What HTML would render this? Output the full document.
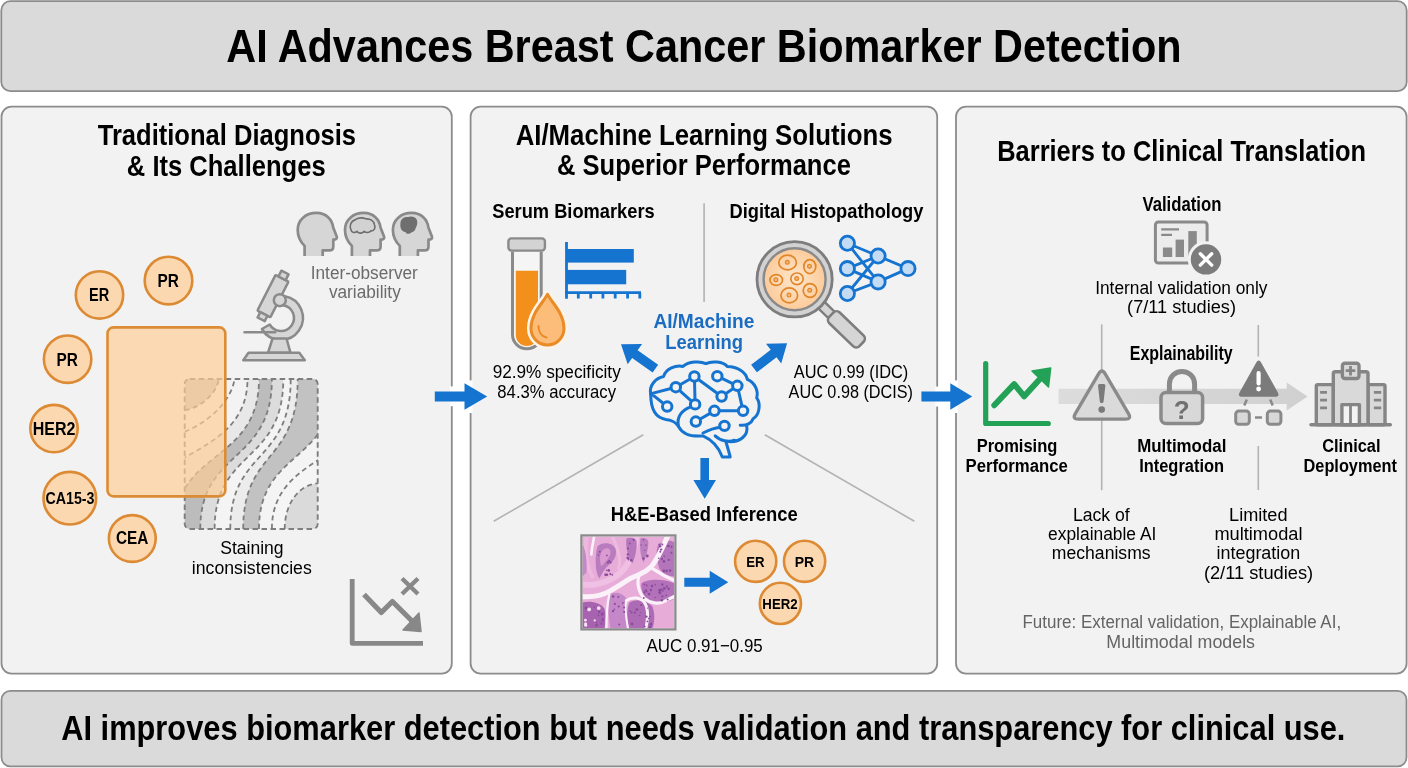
<!DOCTYPE html>
<html><head><meta charset="utf-8"><style>
html,body{margin:0;padding:0;background:#ffffff;}
svg{display:block;font-family:"Liberation Sans",sans-serif;filter:blur(0.45px);}
</style></head><body>
<svg width="1408" height="768" viewBox="0 0 1408 768">
<rect x="1.3" y="1.2" width="1405.4" height="89.9" rx="9" fill="#dadada" stroke="#8c8c8c" stroke-width="1.8"/>
<rect x="1.5" y="106.6" width="450.3" height="567" rx="10" fill="#f2f2f2" stroke="#8c8c8c" stroke-width="1.8"/>
<rect x="470.6" y="106.6" width="466.6" height="567" rx="10" fill="#f2f2f2" stroke="#8c8c8c" stroke-width="1.8"/>
<rect x="956" y="106.6" width="450.6" height="567" rx="10" fill="#f2f2f2" stroke="#8c8c8c" stroke-width="1.8"/>
<rect x="1.5" y="690.8" width="1405" height="75.6" rx="9" fill="#dadada" stroke="#8c8c8c" stroke-width="1.8"/>
<rect x="449.8" y="386.4" width="4.5" height="19.8" fill="#fff"/><rect x="468.9" y="380.4" width="3.6" height="32.6" fill="#fff"/>
<rect x="935.4" y="386.6" width="3.6" height="19.9" fill="#fff"/><rect x="954.2" y="380.4" width="3.6" height="32.6" fill="#fff"/>
<path d="M434.8,391.4 L464.5,391.4 L464.5,383.15 L487.2,396.5 L464.5,409.85 L464.5,401.6 L434.8,401.6 Z" fill="#1574d0"/>
<path d="M921.4,391.4 L950.3,391.4 L950.3,383.15 L972.2,396.5 L950.3,409.85 L950.3,401.6 L921.4,401.6 Z" fill="#1574d0"/>
<g transform="translate(297.7,212.9)"><path d="M6.9,43 L6.9,33 C2.5,28.5 0,23 0,17 C0,7 8,0 18.75,0 C28.5,0 34.5,6.5 35.5,14.5 L39,23.5 C39.8,25.5 38.5,26.8 35.6,26.8 L35.6,33.5 C35.6,36 34,37.5 31.5,37.5 L25,37.5 L25,43" fill="#d6d6d6" stroke="#8a8a8a" stroke-width="2.7" stroke-linejoin="round"/>
</g>
<g transform="translate(345.0,212.9)"><path d="M6.9,43 L6.9,33 C2.5,28.5 0,23 0,17 C0,7 8,0 18.75,0 C28.5,0 34.5,6.5 35.5,14.5 L39,23.5 C39.8,25.5 38.5,26.8 35.6,26.8 L35.6,33.5 C35.6,36 34,37.5 31.5,37.5 L25,37.5 L25,43" fill="#d6d6d6" stroke="#8a8a8a" stroke-width="2.7" stroke-linejoin="round"/>
<path d="M6,17 C4,13 6,8 10,7 C13,4.5 18,4.5 21,6 C25,5.5 29,8 29.5,12 C31,15 29,18.5 26,18 C24,20 21,20 19,18.5 C17,21 13,20.5 12,18.5 C9,20.5 6.5,19.5 6,17 Z" fill="#d2d2d2" stroke="#6d6d6d" stroke-width="1.6"/>
</g>
<g transform="translate(392.9,212.9)"><path d="M6.9,43 L6.9,33 C2.5,28.5 0,23 0,17 C0,7 8,0 18.75,0 C28.5,0 34.5,6.5 35.5,14.5 L39,23.5 C39.8,25.5 38.5,26.8 35.6,26.8 L35.6,33.5 C35.6,36 34,37.5 31.5,37.5 L25,37.5 L25,43" fill="#d6d6d6" stroke="#8a8a8a" stroke-width="2.7" stroke-linejoin="round"/>
<path d="M7.5,11 C7.5,6 11,3.8 15,4.2 C18,2.8 22,3.5 23.5,6 C25,8.5 24.5,12 23,14.5 C22.5,17 21,19 18.5,19.5 C16.5,21.5 13.5,21.5 12.5,19 C9,18.5 7,15.5 7.5,11 Z" fill="#6f6f6f"/>
</g>
<g stroke="#8a8a8a" stroke-width="2.5" stroke-linejoin="round" fill="#d6d6d6">
<path d="M284.8,296.3 A22,22 0 1 1 261.9,329 L269.7,324.5 A13,13 0 1 0 283.3,305.2 Z"/>
<path d="M268,352.8 L272.5,338.5 L286.5,338.5 L290.5,352.8 Z"/>
<path d="M243.3,360.2 L304.8,360.2 L299.3,352.8 L248.5,352.8 Z"/>
<g transform="translate(272.5,297) rotate(27)">
<rect x="-7.3" y="-21" width="14.6" height="40" rx="1"/>
<rect x="-4" y="-27.5" width="8" height="6.5"/>
<rect x="-4" y="19" width="8" height="6"/>
</g>
<circle cx="279.8" cy="300.2" r="6"/>
</g>
<line x1="244.6" y1="332.3" x2="275" y2="332.3" stroke="#8a8a8a" stroke-width="2.6" stroke-linecap="round"/>
<defs><clipPath id="sbclip"><rect x="0" y="0" width="133" height="150" rx="5"/></clipPath></defs><g transform="translate(184.7,379)"><g clip-path="url(#sbclip)"><rect x="0" y="0" width="133" height="150" fill="#c8c8c8"/><path d="M-5,31.2 L0,31.2 C14,29 31,17 34.2,0 L34.2,-5 L200,-5 L200,200 L-5,200 Z" fill="#f3f3f3"/><path d="M-5,52.7 L0,52.7 C22,44 46,24 49.9,0 L49.9,-5 L200,-5 L200,200 L-5,200 Z" fill="#f3f3f3"/><path d="M-57,150 C-57,70 62.8,85 62.8,0 L62.8,-300 L400,-300 L400,400 L-57,400 Z" fill="#e8e8e8"/><path d="M-10,150 C-10,70 74.3,85 74.3,0 L74.3,-300 L400,-300 L400,400 L-10,400 Z" fill="#bcbcbc"/><path d="M15.6,150 C15.6,70 87.2,85 87.2,0 L87.2,-300 L400,-300 L400,400 L15.6,400 Z" fill="#dcdcdc"/><path d="M29.9,150 C29.9,70 98.6,85 98.6,0 L98.6,-300 L400,-300 L400,400 L29.9,400 Z" fill="#f4f4f4"/><path d="M45.6,150 C45.6,70 106,85 106,0 L106,-300 L400,-300 L400,400 L45.6,400 Z" fill="#ececec"/><path d="M58.5,150 C58.5,70 113,85 113,0 L113,-300 L400,-300 L400,400 L58.5,400 Z" fill="#c2c2c2"/><path d="M74.3,150 C74.3,70 150,85 150,0 L150,-300 L400,-300 L400,400 L74.3,400 Z" fill="#f4f4f4"/><path d="M87.2,150 C87.2,70 192.7,85 192.7,0 L192.7,-300 L400,-300 L400,400 L87.2,400 Z" fill="#f5f5f5"/><path d="M100,155 L100,150 C100,126 113,106 133,104.3 L200,104.3 L200,200 L100,200 Z" fill="#dadada"/><path d="M0,31.2 C14,29 31,17 34.2,0" fill="none" stroke="#7e7e7e" stroke-width="1.8" stroke-dasharray="5 3.5"/><path d="M0,52.7 C22,44 46,24 49.9,0" fill="none" stroke="#7e7e7e" stroke-width="1.8" stroke-dasharray="5 3.5"/><path d="M-57,150 C-57,70 62.8,85 62.8,0" fill="none" stroke="#7e7e7e" stroke-width="1.8" stroke-dasharray="5 3.5"/><path d="M-10,150 C-10,70 74.3,85 74.3,0" fill="none" stroke="#7e7e7e" stroke-width="1.8" stroke-dasharray="5 3.5"/><path d="M15.6,150 C15.6,70 87.2,85 87.2,0" fill="none" stroke="#7e7e7e" stroke-width="1.8" stroke-dasharray="5 3.5"/><path d="M29.9,150 C29.9,70 98.6,85 98.6,0" fill="none" stroke="#7e7e7e" stroke-width="1.8" stroke-dasharray="5 3.5"/><path d="M45.6,150 C45.6,70 106,85 106,0" fill="none" stroke="#7e7e7e" stroke-width="1.8" stroke-dasharray="5 3.5"/><path d="M58.5,150 C58.5,70 113,85 113,0" fill="none" stroke="#7e7e7e" stroke-width="1.8" stroke-dasharray="5 3.5"/><path d="M74.3,150 C74.3,70 150,85 150,0" fill="none" stroke="#7e7e7e" stroke-width="1.8" stroke-dasharray="5 3.5"/><path d="M87.2,150 C87.2,70 192.7,85 192.7,0" fill="none" stroke="#7e7e7e" stroke-width="1.8" stroke-dasharray="5 3.5"/><path d="M100,150 C100,126 113,106 133,104.3" fill="none" stroke="#7e7e7e" stroke-width="1.8" stroke-dasharray="5 3.5"/></g><rect x="0" y="0" width="133" height="150" rx="5" fill="none" stroke="#7e7e7e" stroke-width="1.9" stroke-dasharray="5.5 3.5"/></g>
<rect x="107.5" y="327.4" width="117.8" height="169" rx="6" fill="#ffcd95" fill-opacity="0.68" stroke="#dc8c35" stroke-width="2.6"/>
<circle cx="99.5" cy="294.9" r="23.7" fill="#fcd8b1" stroke="#dc8a33" stroke-width="2.6"/>
<circle cx="168.5" cy="280.6" r="23.8" fill="#fcd8b1" stroke="#dc8a33" stroke-width="2.6"/>
<circle cx="67.6" cy="359.2" r="23.7" fill="#fcd8b1" stroke="#dc8a33" stroke-width="2.6"/>
<circle cx="54" cy="428.6" r="23.7" fill="#fcd8b1" stroke="#dc8a33" stroke-width="2.6"/>
<circle cx="69.8" cy="498.2" r="26.3" fill="#fcd8b1" stroke="#dc8a33" stroke-width="2.6"/>
<circle cx="132.3" cy="538.5" r="23.4" fill="#fcd8b1" stroke="#dc8a33" stroke-width="2.6"/>
<g stroke="#888" fill="none" stroke-linecap="round" stroke-linejoin="round">
<path d="M352.2,579 L352.2,643.4 L423,643.4" stroke-width="4.8" stroke-linecap="butt"/>
<path d="M364,594.5 L381.3,612.5 L392.4,601.5 L412,621" stroke-width="5.2" stroke-linecap="butt"/>
<path d="M403,630 L421,631.5 L419,613 Z" fill="#888" stroke-width="1.5"/>
<path d="M402,578.5 L418,594 M418,578.5 L402,594" stroke-width="4.3" stroke-linecap="butt"/>
</g>
<line x1="704.1" y1="203.2" x2="704.1" y2="301.9" stroke="#b3b3b3" stroke-width="1.6"/>
<line x1="493.75" y1="521.25" x2="643.3" y2="434.8" stroke="#b3b3b3" stroke-width="1.6"/>
<line x1="764.8" y1="434.8" x2="914.4" y2="521.25" stroke="#b3b3b3" stroke-width="1.6"/>
<path d="M512.5,251.8 L512.5,334.5 A14.35,14.35 0 0 0 541.2,334.5 L541.2,251.8" fill="#f5f5f5" stroke="#8a8a8a" stroke-width="3"/>
<path d="M515.8,270.7 L538,270.7 L538,335 A11.1,11.1 0 0 1 515.8,335 Z" fill="#f3901c"/>
<rect x="508.4" y="238.4" width="36.5" height="12.2" rx="3" fill="#d3d3d3" stroke="#8a8a8a" stroke-width="2.4"/>
<path d="M547.5,294.4 C552,303 564,313 564,328.5 A16.5,16.5 0 0 1 531,328.5 C531,313 543,303 547.5,294.4 Z" fill="#fbbd79" stroke="#fdf3e8" stroke-width="8" stroke-linejoin="round"/>
<path d="M547.5,294.4 C552,303 564,313 564,328.5 A16.5,16.5 0 0 1 531,328.5 C531,313 543,303 547.5,294.4 Z" fill="#fbbd79" stroke="#e98b26" stroke-width="3" stroke-linejoin="round"/>
<path d="M538.5,326 C538.5,332 541.5,336.5 546.5,337.5" fill="none" stroke="#e98b26" stroke-width="2" stroke-linecap="round"/>
<rect x="566.5" y="249" width="67.3" height="13.6" fill="#1574d0"/>
<rect x="566.5" y="269.9" width="59.7" height="14.4" fill="#1574d0"/>
<path d="M566.5,242 L566.5,298.7 M565,292.7 L641,292.7 M578.3,292.7 L578.3,298.5 M590.7,292.7 L590.7,298.5 M602.9,292.7 L602.9,298.5 M615.2,292.7 L615.2,298.5 M627.6,292.7 L627.6,298.5 M639.8,292.7 L639.8,298.5 " fill="none" stroke="#1574d0" stroke-width="2.8"/>
<defs><radialGradient id="lens" cx="0.5" cy="0.5" r="0.5"><stop offset="0" stop-color="#fee6cc"/><stop offset="1" stop-color="#fccb9a"/></radialGradient></defs>
<g transform="translate(794.6,279.3) rotate(44)"><rect x="36" y="-4.5" width="16" height="9" fill="#d5d5d5" stroke="#7d7d7d" stroke-width="2.4"/><rect x="51" y="-7.5" width="42" height="15" rx="4.5" fill="#d5d5d5" stroke="#7d7d7d" stroke-width="2.6"/></g>
<circle cx="794.6" cy="279.3" r="37.6" fill="#d2d2d2" stroke="#7d7d7d" stroke-width="2.8"/>
<circle cx="794.6" cy="279.3" r="31" fill="url(#lens)" stroke="#8a8a8a" stroke-width="2.4"/>
<ellipse cx="787.6" cy="262.5" rx="8.8" ry="7.3" fill="none" stroke="#e08628" stroke-width="1.7"/><circle cx="787.3000000000001" cy="262.2" r="1.9" fill="#f6b678" stroke="#e08628" stroke-width="1.2"/>
<ellipse cx="809.8" cy="266.6" rx="6" ry="7" fill="none" stroke="#e08628" stroke-width="1.7"/><circle cx="809.5" cy="266.3" r="1.9" fill="#f6b678" stroke="#e08628" stroke-width="1.2"/>
<ellipse cx="776.2" cy="280" rx="6.3" ry="5.4" fill="none" stroke="#e08628" stroke-width="1.7"/><circle cx="775.9000000000001" cy="279.7" r="1.9" fill="#f6b678" stroke="#e08628" stroke-width="1.2"/>
<ellipse cx="797" cy="278.8" rx="6.2" ry="5.8" fill="none" stroke="#e08628" stroke-width="1.7"/><circle cx="796.7" cy="278.5" r="1.9" fill="#f6b678" stroke="#e08628" stroke-width="1.2"/>
<ellipse cx="789.3" cy="295.4" rx="8.3" ry="7.5" fill="none" stroke="#e08628" stroke-width="1.7"/><circle cx="789.0" cy="295.09999999999997" r="1.9" fill="#f6b678" stroke="#e08628" stroke-width="1.2"/>
<ellipse cx="810" cy="290.5" rx="6.8" ry="6.8" fill="none" stroke="#e08628" stroke-width="1.7"/><circle cx="809.7" cy="290.2" r="1.9" fill="#f6b678" stroke="#e08628" stroke-width="1.2"/>
<path d="M847.4,243.2 L878.1,256 M847.4,243.2 L878.1,281.9 M847.4,268.6 L878.1,256 M847.4,268.6 L878.1,281.9 M847.4,293.5 L878.1,256 M847.4,293.5 L878.1,281.9 M878.1,256 L908,268.6 M878.1,281.9 L908,268.6 " stroke="#1574d0" stroke-width="2.8" fill="none"/>
<circle cx="847.4" cy="243.2" r="7.1" fill="#c3dbf3" stroke="#1574d0" stroke-width="2.8"/>
<circle cx="847.4" cy="268.6" r="7.1" fill="#c3dbf3" stroke="#1574d0" stroke-width="2.8"/>
<circle cx="847.4" cy="293.5" r="7.1" fill="#c3dbf3" stroke="#1574d0" stroke-width="2.8"/>
<circle cx="878.1" cy="256" r="7.1" fill="#c3dbf3" stroke="#1574d0" stroke-width="2.8"/>
<circle cx="878.1" cy="281.9" r="7.1" fill="#c3dbf3" stroke="#1574d0" stroke-width="2.8"/>
<circle cx="908" cy="268.6" r="7.1" fill="#c3dbf3" stroke="#1574d0" stroke-width="2.8"/>
<g transform="translate(640,355) scale(0.14316)" fill="none" stroke="#1574d0" stroke-width="21" stroke-linecap="round" stroke-linejoin="round">
<path d="M75,275 C60,215 110,160 165,150 C180,95 250,70 300,80 C340,45 420,40 460,60 C500,40 580,45 610,80 C680,80 740,120 750,170 C800,190 830,250 815,300 C845,340 835,420 790,445 C780,475 745,495 700,490"/>
<path d="M745,495 C760,560 700,610 620,605 L600,605 C610,640 625,690 630,712 L575,712 C555,660 520,600 440,565 C380,570 300,560 270,500 C250,470 230,455 180,450 C110,440 75,380 75,275"/>
<path d="M270,500 C250,430 300,380 355,362"/>
<path d="M525,565 C560,600 620,610 660,595"/>
<path d="M560,505 C520,510 470,530 440,545"/>
<path d="M78,270 L250,225 M78,270 L190,360 M250,225 L380,150 M250,225 L385,345 M380,150 L385,345 M380,150 L570,290 M540,148 L680,215 M570,290 L680,215 M680,215 L720,390 M520,390 L720,390 M390,465 L520,390 "/>

<circle cx="380" cy="150" r="33" fill="#f2f2f2"/>
<circle cx="540" cy="148" r="33" fill="#f2f2f2"/>
<circle cx="250" cy="225" r="33" fill="#f2f2f2"/>
<circle cx="680" cy="215" r="33" fill="#f2f2f2"/>
<circle cx="570" cy="290" r="33" fill="#f2f2f2"/>
<circle cx="190" cy="360" r="33" fill="#f2f2f2"/>
<circle cx="385" cy="345" r="33" fill="#f2f2f2"/>
<circle cx="520" cy="390" r="33" fill="#f2f2f2"/>
<circle cx="720" cy="390" r="33" fill="#f2f2f2"/>
<circle cx="390" cy="465" r="33" fill="#f2f2f2"/>
<circle cx="590" cy="495" r="33" fill="#f2f2f2"/>
</g>
<path transform="translate(655.4,368.6) rotate(-144.76)" d="M0,-4.75 L25.117098665506376,-4.75 L25.117098665506376,-12.5 L42.117098665506376,0 L25.117098665506376,12.5 L25.117098665506376,4.75 L0,4.75 Z" fill="#1574d0"/>
<path transform="translate(754,368.6) rotate(-37.50)" d="M0,-4.75 L24.722535876909532,-4.75 L24.722535876909532,-12.5 L41.72253587690953,0 L24.722535876909532,12.5 L24.722535876909532,4.75 L0,4.75 Z" fill="#1574d0"/>
<path transform="translate(704.7,457.9) rotate(90.00)" d="M0,-4.3 L22.100000000000012,-4.3 L22.100000000000012,-11.3 L40.80000000000001,0 L22.100000000000012,11.3 L22.100000000000012,4.3 L0,4.3 Z" fill="#1574d0"/>
<path d="M684.3,577.7 L709.7,577.7 L709.7,570.75 L728.3,582.2 L709.7,593.6500000000001 L709.7,586.7 L684.3,586.7 Z" fill="#1574d0"/>
<defs><filter id="hblur" x="-5%" y="-5%" width="110%" height="110%"><feGaussianBlur stdDeviation="0.55"/></filter><clipPath id="hclip"><rect x="0" y="0" width="92" height="92"/></clipPath></defs><g transform="translate(582.4,536.4)"><g clip-path="url(#hclip)"><g filter="url(#hblur)"><rect x="0" y="0" width="92" height="92" fill="#e8acd9"/><path d="M0,48 C12,50 26,46 36,38 C46,30 52,16 54,0" fill="none" stroke="#efc0e3" stroke-width="6" stroke-linecap="round"/><path d="M4,0 C2,14 4,30 10,40" fill="none" stroke="#eeb8df" stroke-width="4" stroke-linecap="round"/><path d="M30,0 C34,10 40,22 36,32" fill="none" stroke="#eebbe0" stroke-width="3" stroke-linecap="round"/><path d="M20,92 C20,80 22,68 28,58" fill="none" stroke="#eab2dc" stroke-width="4" stroke-linecap="round"/><path d="M59,47 C64,43 78,42 90,46 L92,47 L92,62 C86,66 76,68 68,66 C62,62 58,54 59,47 Z" fill="#b271b9"/><path d="M76,8 C80,4 90,3 92,6 L92,40 C86,40 80,37 77,32 C74,24 73,14 76,8 Z" fill="#b476bb"/><path d="M47,66 C54,62 64,64 70,70 C73,78 72,86 70,92 L47,92 C44,84 44,72 47,66 Z" fill="#ad6bb5"/><path d="M27,58 C32,55 40,56 44,62 C45,72 45,84 44,92 L28,92 C26,80 25,66 27,58 Z" fill="#c488c8"/><path d="M0,66 C8,64 18,66 22,72 C24,80 23,88 22,92 L0,92 Z" fill="#a863b0"/><path d="M15,10 C20,5 30,6 33,12 C35,18 32,24 27,28 C22,32 19,38 17,42 C13,36 12,22 15,10 Z" fill="#b97bbe"/><path d="M44,2 C47,1 52,1 54,4 C55,12 53,20 50,27 C46,22 43,12 44,2 Z" fill="#b677bc"/><path d="M58,2 C61,1 65,2 66,5 C66,12 64,20 61,26 C58,20 57,10 58,2 Z" fill="#bb7fc0"/><path d="M0,8 C3,12 5,24 4,36 L0,40 Z" fill="#c28ac6"/><path d="M20,14 C24,10 29,12 28,17 C27,22 22,26 19,30 C17,24 17,18 20,14 Z" fill="#dc9bd0"/><path d="M-2,60 C10,61 20,59 27,55 C34,51 40,47 48,42 C52,40 55,39 57,38 C62,36 66,33 69,30 C74,24 80,12 86,-2" fill="none" stroke="#fbf1f9" stroke-width="5" stroke-linecap="round"/><path d="M57,38 C54,46 56,56 62,62 C68,67 76,68 82,65 C86,63 89,61 94,59" fill="none" stroke="#fbf1f9" stroke-width="3.2" stroke-linecap="round"/><path d="M68,31 C74,35 82,40 94,45" fill="none" stroke="#fbf1f9" stroke-width="3.2" stroke-linecap="round"/><path d="M44,64 C50,60 58,61 62,66 C66,72 66,82 63,94" fill="none" stroke="#fbf1f9" stroke-width="3" stroke-linecap="round"/><path d="M12,-2 C11,6 9,12 9,18" fill="none" stroke="#fbf1f9" stroke-width="2.6" stroke-linecap="round"/><path d="M24,94 C24,82 24,70 27,58" fill="none" stroke="#fbf1f9" stroke-width="2.2" stroke-linecap="round"/><path d="M44,64 C42,72 44,84 46,94" fill="none" stroke="#fbf1f9" stroke-width="2" stroke-linecap="round"/><circle cx="69.7" cy="49.6" r="1.2" fill="#8a4c9c"/><circle cx="62.2" cy="56.1" r="1.0" fill="#8a4c9c"/><circle cx="61.7" cy="55.6" r="0.7" fill="#8a4c9c"/><circle cx="73.0" cy="48.2" r="0.8" fill="#8a4c9c"/><circle cx="72.7" cy="61.1" r="0.8" fill="#8a4c9c"/><circle cx="66.7" cy="57.7" r="1.4" fill="#8a4c9c"/><circle cx="77.3" cy="53.7" r="1.4" fill="#8a4c9c"/><circle cx="61.4" cy="61.6" r="0.9" fill="#8a4c9c"/><circle cx="64.3" cy="49.0" r="0.9" fill="#8a4c9c"/><circle cx="84.5" cy="50.1" r="1.1" fill="#8a4c9c"/><circle cx="79.2" cy="53.3" r="1.1" fill="#8a4c9c"/><circle cx="61.9" cy="48.0" r="0.8" fill="#8a4c9c"/><circle cx="80.4" cy="54.3" r="0.9" fill="#8a4c9c"/><circle cx="77.6" cy="54.7" r="0.9" fill="#8a4c9c"/><circle cx="83.8" cy="58.9" r="0.9" fill="#8a4c9c"/><circle cx="77.2" cy="55.9" r="1.3" fill="#8a4c9c"/><circle cx="81.9" cy="51.9" r="1.4" fill="#8a4c9c"/><circle cx="63.5" cy="54.1" r="1.2" fill="#8a4c9c"/><circle cx="64.6" cy="55.3" r="0.7" fill="#8a4c9c"/><circle cx="80.0" cy="60.0" r="1.1" fill="#8a4c9c"/><circle cx="86.3" cy="52.3" r="1.2" fill="#8a4c9c"/><circle cx="77.8" cy="56.9" r="1.0" fill="#8a4c9c"/><circle cx="85.2" cy="63.1" r="1.0" fill="#8a4c9c"/><circle cx="79.9" cy="48.0" r="1.2" fill="#8a4c9c"/><circle cx="79.4" cy="63.9" r="1.3" fill="#8a4c9c"/><circle cx="68.5" cy="53.6" r="1.2" fill="#8a4c9c"/><circle cx="76.3" cy="21.9" r="0.8" fill="#8a4c9c"/><circle cx="77.8" cy="9.8" r="1.2" fill="#8a4c9c"/><circle cx="77.9" cy="15.4" r="1.0" fill="#8a4c9c"/><circle cx="89.1" cy="10.4" r="1.0" fill="#8a4c9c"/><circle cx="84.2" cy="34.5" r="1.3" fill="#8a4c9c"/><circle cx="89.0" cy="16.4" r="1.0" fill="#8a4c9c"/><circle cx="81.4" cy="34.5" r="1.4" fill="#8a4c9c"/><circle cx="78.3" cy="13.3" r="0.9" fill="#8a4c9c"/><circle cx="79.5" cy="22.5" r="1.1" fill="#8a4c9c"/><circle cx="79.9" cy="8.1" r="1.0" fill="#8a4c9c"/><circle cx="81.5" cy="25.0" r="1.4" fill="#8a4c9c"/><circle cx="86.4" cy="23.5" r="1.1" fill="#8a4c9c"/><circle cx="86.1" cy="9.6" r="1.3" fill="#8a4c9c"/><circle cx="87.7" cy="34.2" r="1.3" fill="#8a4c9c"/><circle cx="81.9" cy="20.0" r="0.8" fill="#8a4c9c"/><circle cx="85.5" cy="9.9" r="0.7" fill="#8a4c9c"/><circle cx="79.1" cy="12.9" r="0.9" fill="#8a4c9c"/><circle cx="76.8" cy="8.0" r="0.8" fill="#8a4c9c"/><circle cx="49.2" cy="76.4" r="0.7" fill="#8a4c9c"/><circle cx="66.2" cy="82.1" r="0.8" fill="#8a4c9c"/><circle cx="52.5" cy="76.0" r="1.0" fill="#8a4c9c"/><circle cx="49.7" cy="87.5" r="1.4" fill="#8a4c9c"/><circle cx="57.3" cy="79.1" r="0.8" fill="#8a4c9c"/><circle cx="49.2" cy="75.9" r="0.9" fill="#8a4c9c"/><circle cx="65.2" cy="71.7" r="0.7" fill="#8a4c9c"/><circle cx="67.9" cy="80.1" r="0.8" fill="#8a4c9c"/><circle cx="58.9" cy="68.6" r="1.1" fill="#8a4c9c"/><circle cx="68.5" cy="87.9" r="1.2" fill="#8a4c9c"/><circle cx="52.7" cy="76.4" r="0.8" fill="#8a4c9c"/><circle cx="64.0" cy="80.2" r="1.2" fill="#8a4c9c"/><circle cx="54.3" cy="73.1" r="1.3" fill="#8a4c9c"/><circle cx="68.7" cy="87.6" r="1.3" fill="#8a4c9c"/><circle cx="65.0" cy="85.0" r="0.9" fill="#8a4c9c"/><circle cx="58.4" cy="76.2" r="0.7" fill="#8a4c9c"/><circle cx="47.6" cy="74.4" r="0.9" fill="#8a4c9c"/><circle cx="62.2" cy="90.0" r="1.0" fill="#8a4c9c"/><circle cx="67.6" cy="90.7" r="1.4" fill="#8a4c9c"/><circle cx="55.0" cy="73.1" r="0.9" fill="#8a4c9c"/><circle cx="4.9" cy="72.7" r="1.1" fill="#8a4c9c"/><circle cx="19.0" cy="87.3" r="1.0" fill="#8a4c9c"/><circle cx="14.1" cy="86.4" r="0.8" fill="#8a4c9c"/><circle cx="14.2" cy="88.9" r="1.2" fill="#8a4c9c"/><circle cx="16.0" cy="79.0" r="0.8" fill="#8a4c9c"/><circle cx="16.8" cy="75.6" r="1.3" fill="#8a4c9c"/><circle cx="20.4" cy="77.1" r="1.0" fill="#8a4c9c"/><circle cx="19.9" cy="84.7" r="0.8" fill="#8a4c9c"/><circle cx="3.5" cy="71.5" r="1.3" fill="#8a4c9c"/><circle cx="17.1" cy="71.4" r="1.3" fill="#8a4c9c"/><circle cx="20.6" cy="83.1" r="0.9" fill="#8a4c9c"/><circle cx="12.0" cy="71.0" r="0.7" fill="#8a4c9c"/><circle cx="20.4" cy="82.9" r="1.1" fill="#8a4c9c"/><circle cx="19.7" cy="78.0" r="1.3" fill="#8a4c9c"/><circle cx="40.4" cy="66.5" r="0.9" fill="#8a4c9c"/><circle cx="32.4" cy="67.5" r="1.1" fill="#8a4c9c"/><circle cx="31.9" cy="73.0" r="0.8" fill="#8a4c9c"/><circle cx="41.7" cy="71.0" r="1.0" fill="#8a4c9c"/><circle cx="36.8" cy="88.0" r="1.0" fill="#8a4c9c"/><circle cx="41.8" cy="75.6" r="1.1" fill="#8a4c9c"/><circle cx="35.9" cy="60.6" r="1.0" fill="#8a4c9c"/><circle cx="30.7" cy="60.1" r="1.3" fill="#8a4c9c"/><circle cx="30.6" cy="74.7" r="1.2" fill="#8a4c9c"/><circle cx="36.3" cy="70.1" r="1.1" fill="#8a4c9c"/><circle cx="24.4" cy="34.0" r="0.8" fill="#8a4c9c"/><circle cx="24.5" cy="19.0" r="0.9" fill="#8a4c9c"/><circle cx="28.1" cy="26.2" r="1.1" fill="#8a4c9c"/><circle cx="27.9" cy="37.5" r="1.0" fill="#8a4c9c"/><circle cx="25.4" cy="26.2" r="1.1" fill="#8a4c9c"/><circle cx="26.8" cy="24.7" r="1.1" fill="#8a4c9c"/><circle cx="23.1" cy="38.4" r="1.2" fill="#8a4c9c"/><circle cx="29.9" cy="38.4" r="0.9" fill="#8a4c9c"/><circle cx="24.5" cy="38.4" r="1.3" fill="#8a4c9c"/><circle cx="17.3" cy="15.4" r="1.0" fill="#8a4c9c"/><circle cx="16.2" cy="18.7" r="0.8" fill="#8a4c9c"/><circle cx="26.4" cy="34.0" r="1.3" fill="#8a4c9c"/><circle cx="45.5" cy="18.0" r="1.2" fill="#8a4c9c"/><circle cx="45.4" cy="21.5" r="1.4" fill="#8a4c9c"/><circle cx="46.2" cy="23.0" r="1.0" fill="#8a4c9c"/><circle cx="48.9" cy="23.8" r="1.3" fill="#8a4c9c"/><circle cx="45.6" cy="12.1" r="1.1" fill="#8a4c9c"/><circle cx="47.4" cy="7.1" r="0.9" fill="#8a4c9c"/><circle cx="51.2" cy="3.4" r="1.1" fill="#8a4c9c"/><circle cx="61.1" cy="3.4" r="0.9" fill="#8a4c9c"/><circle cx="62.4" cy="13.8" r="0.7" fill="#8a4c9c"/><circle cx="64.9" cy="19.6" r="1.4" fill="#8a4c9c"/><circle cx="58.7" cy="8.6" r="0.7" fill="#8a4c9c"/><circle cx="63.5" cy="8.7" r="0.8" fill="#8a4c9c"/><circle cx="61.0" cy="22.1" r="1.3" fill="#8a4c9c"/><circle cx="6.7" cy="73.0" r="1.9" fill="#f6e2f1"/><circle cx="12.3" cy="84.0" r="1.1" fill="#f6e2f1"/><circle cx="3.0" cy="83.8" r="1.4" fill="#f6e2f1"/><circle cx="3.3" cy="88.8" r="1.6" fill="#f6e2f1"/><circle cx="16.4" cy="71.7" r="1.9" fill="#f6e2f1"/><circle cx="3.2" cy="87.3" r="1.5" fill="#f6e2f1"/></g></g><rect x="-1" y="-1" width="94" height="94" fill="none" stroke="#8a8a8a" stroke-width="2.2"/></g>
<circle cx="755.7" cy="561.3" r="20.6" fill="#fcd8b1" stroke="#dc8a33" stroke-width="2.6"/>
<circle cx="804.6" cy="561.3" r="20.6" fill="#fcd8b1" stroke="#dc8a33" stroke-width="2.6"/>
<circle cx="780.4" cy="603.4" r="20.6" fill="#fcd8b1" stroke="#dc8a33" stroke-width="2.6"/>
<rect x="1155.4" y="222" width="51.7" height="41" rx="3" fill="#ececec" stroke="#8a8a8a" stroke-width="3"/>
<path d="M1161.2,229.3 L1179,229.3 M1161.2,234.8 L1172,234.8" stroke="#8a8a8a" stroke-width="2.2"/>
<rect x="1162.9" y="247.5" width="9.3" height="9.5" fill="#8a8a8a"/><rect x="1175.6" y="239.6" width="8.4" height="17.4" fill="#8a8a8a"/><rect x="1188.3" y="231.1" width="8.5" height="25.9" fill="#8a8a8a"/>
<circle cx="1206" cy="259.4" r="18.2" fill="#f2f2f2"/>
<circle cx="1206" cy="259.4" r="15.2" fill="#7c7c7c"/>
<path d="M1200.3,253.7 L1211.7,265.1 M1211.7,253.7 L1200.3,265.1" stroke="#fff" stroke-width="3.4" stroke-linecap="round"/>
<line x1="1101.7" y1="324.4" x2="1101.7" y2="490.2" stroke="#b3b3b3" stroke-width="1.6"/>
<line x1="1258.3" y1="325" x2="1258.3" y2="356.5" stroke="#b3b3b3" stroke-width="1.6"/><line x1="1258.3" y1="446" x2="1258.3" y2="490" stroke="#b3b3b3" stroke-width="1.6"/>
<defs><linearGradient id="band" x1="0" x2="1"><stop offset="0" stop-color="#dcdcdc"/><stop offset="1" stop-color="#d0d0d0"/></linearGradient></defs>
<path d="M1058.5,388.7 L1286.7,388.7 L1286.7,382.5 L1307.5,396.5 L1286.7,410.6 L1286.7,404 L1058.5,404 Z" fill="url(#band)"/>
<path d="M985.7,363.5 L985.7,423.5 L1048.3,423.5" fill="none" stroke="#23a257" stroke-width="5.2" stroke-linecap="round" stroke-linejoin="round"/>
<path d="M994.3,405.2 L1014.2,384.1 L1024.2,396.3 L1039,380" fill="none" stroke="#23a257" stroke-width="6" stroke-linecap="round" stroke-linejoin="round"/>
<path d="M1050.7,368 L1032,371 L1048.5,387 Z" fill="#23a257" stroke="#23a257" stroke-width="1.5" stroke-linejoin="round"/>
<path d="M1098.61,373.81 Q1101.9,368.2 1105.19,373.81 L1128.51,413.59 Q1131.8,419.2 1125.30,419.20 L1078.50,419.20 Q1072.0,419.2 1075.29,413.59 Z" fill="#dadada" stroke="#8a8a8a" stroke-width="3.3" stroke-linejoin="round"/>
<path d="M1098.0,385.6 Q1098.0,384.0 1099.6,384.0 L1103.8,384.0 Q1105.4,384.0 1105.4,385.6 L1103.6,401.6 Q1103.4,403.2 1101.7,403.2 Q1100.0,403.2 1099.8,401.6 Z" fill="#7a7a7a"/><circle cx="1101.7" cy="409.6" r="3.3" fill="#7a7a7a"/>
<path d="M1169.4,392 L1169.4,384 A12.6,12.6 0 0 1 1194.6,384 L1194.6,392" fill="none" stroke="#8a8a8a" stroke-width="5"/>
<rect x="1161" y="392.5" width="41.6" height="31" rx="5" fill="#d8d8d8" stroke="#8a8a8a" stroke-width="3.5"/>
<text x="1181.6" y="418.8" font-size="26" font-weight="bold" fill="#707070" text-anchor="middle">?</text>
<path d="M1256.01,363.00 Q1258.7,358.2 1261.39,363.00 L1277.61,392.00 Q1280.3,396.8 1274.80,396.80 L1242.60,396.80 Q1237.1,396.8 1239.79,392.00 Z" fill="#7b7b7b"/>
<path d="M1258.6,373 L1258.6,383.5" stroke="#fff" stroke-width="4.2" stroke-linecap="round"/><circle cx="1258.6" cy="389" r="2.4" fill="#fff"/>
<rect x="1235.7" y="411.1" width="13.6" height="13.2" rx="3" fill="#d8d8d8" stroke="#8a8a8a" stroke-width="3"/>
<rect x="1267.3" y="411.1" width="13.6" height="13.2" rx="3" fill="#d8d8d8" stroke="#8a8a8a" stroke-width="3"/>
<path d="M1255,417.6 L1262,417.6 M1246.8,399.5 L1244.3,405.5 M1270.2,399.5 L1272.7,405.5" stroke="#8a8a8a" stroke-width="2.5"/>
<g fill="#d9d9d9" stroke="#858585" stroke-width="3.4" stroke-linejoin="round">
<rect x="1316.3" y="384.6" width="17" height="40.2" rx="1.5"/>
<rect x="1368" y="384.6" width="17" height="40.2" rx="1.5"/>
<rect x="1333.3" y="371.8" width="34.7" height="53" rx="2"/>
<rect x="1342.4" y="363.2" width="16.6" height="15.3" rx="2.5"/>
<rect x="1341.9" y="404.6" width="17.5" height="20.2" fill="#f3f3f3"/>
</g>
<path d="M1350.5,366 L1350.5,375.5 M1345.7,370.7 L1355.3,370.7 M1350.5,404.6 L1350.5,424.8 M1320.1,392.3 L1327,392.3 M1320.1,400.2 L1327,400.2 M1320.1,407.8 L1327,407.8 M1373.9,392.3 L1381.2,392.3 M1373.9,400.2 L1381.2,400.2 M1373.9,407.8 L1381.2,407.8" stroke="#858585" stroke-width="2.8"/>
<line x1="1311" y1="424.8" x2="1390.3" y2="424.8" stroke="#858585" stroke-width="3.5" stroke-linecap="round"/>
<text x="226.37" y="61.80" font-size="45.30" font-weight="bold" fill="#000" textLength="955.25" lengthAdjust="spacingAndGlyphs">AI Advances Breast Cancer Biomarker Detection</text>
<text x="97.74" y="144.70" font-size="28.90" font-weight="bold" fill="#000" textLength="258.25" lengthAdjust="spacingAndGlyphs">Traditional Diagnosis</text>
<text x="126.85" y="175.50" font-size="28.90" font-weight="bold" fill="#000" textLength="198.77" lengthAdjust="spacingAndGlyphs">&amp; Its Challenges</text>
<text x="515.66" y="144.60" font-size="28.90" font-weight="bold" fill="#000" textLength="376.94" lengthAdjust="spacingAndGlyphs">AI/Machine Learning Solutions</text>
<text x="557.05" y="175.20" font-size="28.90" font-weight="bold" fill="#000" textLength="293.81" lengthAdjust="spacingAndGlyphs">&amp; Superior Performance</text>
<text x="997.25" y="160.50" font-size="29.40" font-weight="bold" fill="#000" textLength="368.77" lengthAdjust="spacingAndGlyphs">Barriers to Clinical Translation</text>
<text x="61.23" y="739.80" font-size="34.70" font-weight="bold" fill="#000" textLength="1284.19" lengthAdjust="spacingAndGlyphs">AI improves biomarker detection but needs validation and transparency for clinical use.</text>
<text x="492.25" y="217.90" font-size="20.40" font-weight="bold" fill="#000" textLength="162.44" lengthAdjust="spacingAndGlyphs">Serum Biomarkers</text>
<text x="729.51" y="217.90" font-size="20.40" font-weight="bold" fill="#000" textLength="193.90" lengthAdjust="spacingAndGlyphs">Digital Histopathology</text>
<text x="653.42" y="327.50" font-size="20.80" font-weight="bold" fill="#1c6dc1" textLength="101.03" lengthAdjust="spacingAndGlyphs">AI/Machine</text>
<text x="665.30" y="349.20" font-size="20.80" font-weight="bold" fill="#1c6dc1" textLength="77.74" lengthAdjust="spacingAndGlyphs">Learning</text>
<text x="492.63" y="378.20" font-size="18.90" font-weight="normal" fill="#000" textLength="128.14" lengthAdjust="spacingAndGlyphs">92.9% specificity</text>
<text x="497.35" y="397.80" font-size="18.90" font-weight="normal" fill="#000" textLength="118.65" lengthAdjust="spacingAndGlyphs">84.3% accuracy</text>
<text x="793.75" y="378.00" font-size="18.90" font-weight="normal" fill="#000" textLength="114.56" lengthAdjust="spacingAndGlyphs">AUC 0.99 (IDC)</text>
<text x="788.60" y="397.50" font-size="18.90" font-weight="normal" fill="#000" textLength="124.43" lengthAdjust="spacingAndGlyphs">AUC 0.98 (DCIS)</text>
<text x="610.81" y="521.30" font-size="21.00" font-weight="bold" fill="#000" textLength="186.95" lengthAdjust="spacingAndGlyphs">H&amp;E-Based Inference</text>
<text x="646.50" y="651.90" font-size="18.90" font-weight="normal" fill="#000" textLength="116.29" lengthAdjust="spacingAndGlyphs">AUC 0.91−0.95</text>
<text x="220.21" y="554.30" font-size="18.90" font-weight="normal" fill="#000" textLength="63.41" lengthAdjust="spacingAndGlyphs">Staining</text>
<text x="191.85" y="573.70" font-size="18.90" font-weight="normal" fill="#000" textLength="119.89" lengthAdjust="spacingAndGlyphs">inconsistencies</text>
<text x="310.75" y="279.00" font-size="18.90" font-weight="normal" fill="#6b6b6b" textLength="107.09" lengthAdjust="spacingAndGlyphs">Inter-observer</text>
<text x="328.91" y="297.80" font-size="18.90" font-weight="normal" fill="#6b6b6b" textLength="71.85" lengthAdjust="spacingAndGlyphs">variability</text>
<text x="1142.42" y="210.75" font-size="20.00" font-weight="bold" fill="#000" textLength="79.04" lengthAdjust="spacingAndGlyphs">Validation</text>
<text x="1095.14" y="293.60" font-size="18.80" font-weight="normal" fill="#000" textLength="172.38" lengthAdjust="spacingAndGlyphs">Internal validation only</text>
<text x="1127.11" y="312.60" font-size="18.80" font-weight="normal" fill="#000" textLength="108.87" lengthAdjust="spacingAndGlyphs">(7/11 studies)</text>
<text x="1129.76" y="359.70" font-size="19.50" font-weight="bold" fill="#000" textLength="102.84" lengthAdjust="spacingAndGlyphs">Explainability</text>
<text x="976.63" y="451.60" font-size="19.10" font-weight="bold" fill="#000" textLength="80.74" lengthAdjust="spacingAndGlyphs">Promising</text>
<text x="965.51" y="471.60" font-size="19.10" font-weight="bold" fill="#000" textLength="102.27" lengthAdjust="spacingAndGlyphs">Performance</text>
<text x="1137.20" y="451.60" font-size="19.10" font-weight="bold" fill="#000" textLength="89.14" lengthAdjust="spacingAndGlyphs">Multimodal</text>
<text x="1139.13" y="471.70" font-size="19.10" font-weight="bold" fill="#000" textLength="84.98" lengthAdjust="spacingAndGlyphs">Integration</text>
<text x="1322.24" y="451.60" font-size="19.10" font-weight="bold" fill="#000" textLength="58.25" lengthAdjust="spacingAndGlyphs">Clinical</text>
<text x="1303.54" y="471.60" font-size="19.10" font-weight="bold" fill="#000" textLength="93.38" lengthAdjust="spacingAndGlyphs">Deployment</text>
<text x="1072.89" y="520.60" font-size="18.90" font-weight="normal" fill="#000" textLength="56.79" lengthAdjust="spacingAndGlyphs">Lack of</text>
<text x="1048.11" y="539.90" font-size="18.90" font-weight="normal" fill="#000" textLength="108.20" lengthAdjust="spacingAndGlyphs">explainable AI</text>
<text x="1051.86" y="559.20" font-size="18.90" font-weight="normal" fill="#000" textLength="98.72" lengthAdjust="spacingAndGlyphs">mechanisms</text>
<text x="1229.05" y="520.60" font-size="18.90" font-weight="normal" fill="#000" textLength="58.51" lengthAdjust="spacingAndGlyphs">Limited</text>
<text x="1214.42" y="539.90" font-size="18.90" font-weight="normal" fill="#000" textLength="88.07" lengthAdjust="spacingAndGlyphs">multimodal</text>
<text x="1216.53" y="559.20" font-size="18.90" font-weight="normal" fill="#000" textLength="83.73" lengthAdjust="spacingAndGlyphs">integration</text>
<text x="1203.90" y="578.80" font-size="18.90" font-weight="normal" fill="#000" textLength="109.27" lengthAdjust="spacingAndGlyphs">(2/11 studies)</text>
<text x="1022.44" y="628.20" font-size="18.90" font-weight="normal" fill="#646464" textLength="318.67" lengthAdjust="spacingAndGlyphs">Future: External validation, Explainable AI,</text>
<text x="1106.37" y="648.00" font-size="18.90" font-weight="normal" fill="#646464" textLength="148.68" lengthAdjust="spacingAndGlyphs">Multimodal models</text>
<text x="89.06" y="301.20" font-size="18.00" font-weight="bold" fill="#000" textLength="20.20" lengthAdjust="spacingAndGlyphs">ER</text>
<text x="157.50" y="287.20" font-size="18.00" font-weight="bold" fill="#000" textLength="21.37" lengthAdjust="spacingAndGlyphs">PR</text>
<text x="56.50" y="365.70" font-size="18.00" font-weight="bold" fill="#000" textLength="21.37" lengthAdjust="spacingAndGlyphs">PR</text>
<text x="32.76" y="434.90" font-size="18.30" font-weight="bold" fill="#000" textLength="42.72" lengthAdjust="spacingAndGlyphs">HER2</text>
<text x="45.53" y="503.70" font-size="16.00" font-weight="bold" fill="#000" textLength="48.98" lengthAdjust="spacingAndGlyphs">CA15-3</text>
<text x="115.89" y="544.00" font-size="18.00" font-weight="bold" fill="#000" textLength="32.42" lengthAdjust="spacingAndGlyphs">CEA</text>
<text x="746.14" y="566.70" font-size="15.50" font-weight="bold" fill="#000" textLength="18.38" lengthAdjust="spacingAndGlyphs">ER</text>
<text x="794.79" y="566.70" font-size="15.50" font-weight="bold" fill="#000" textLength="19.45" lengthAdjust="spacingAndGlyphs">PR</text>
<text x="762.34" y="608.70" font-size="15.30" font-weight="bold" fill="#000" textLength="35.32" lengthAdjust="spacingAndGlyphs">HER2</text>
</svg>
</body></html>
